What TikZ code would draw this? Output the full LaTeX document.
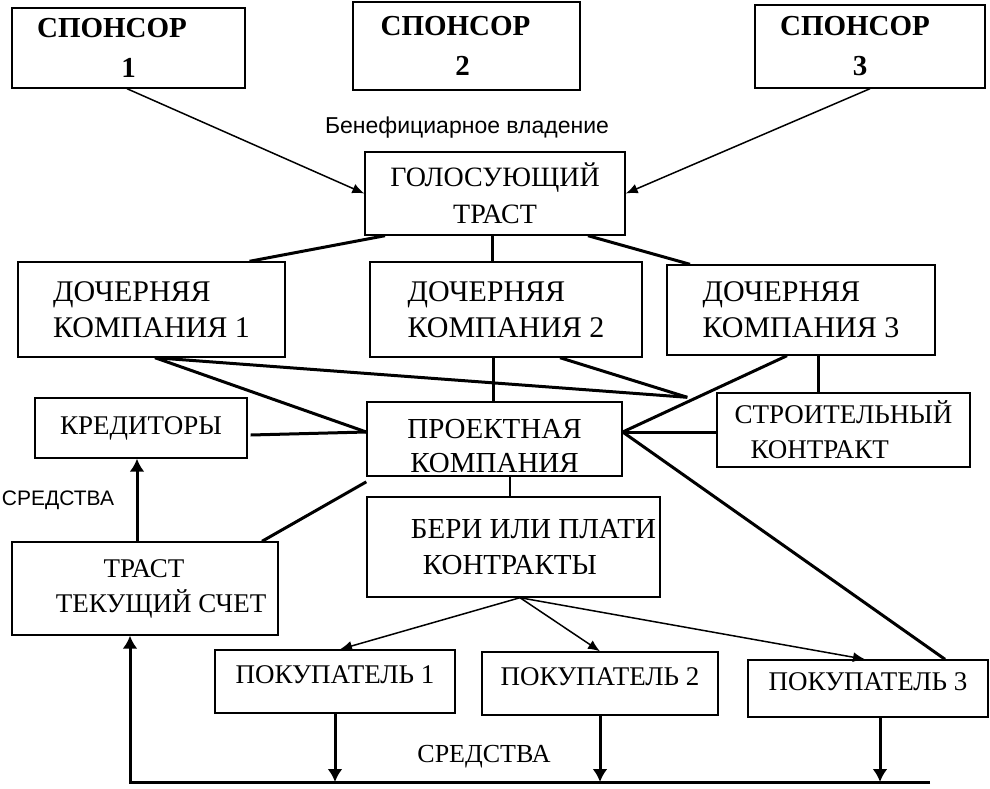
\documentclass[tikz,border=0pt]{standalone}
\usepackage{fontspec}
\setmainfont{Liberation Serif}
\newfontfamily\labelfont{Liberation Sans}
\usetikzlibrary{arrows.meta, positioning}

\tikzset{
	box/.style={draw, line width=1.4pt, inner sep=3pt, align=center, font=\fontsize{27}{35}\selectfont},
	bigbox/.style={box, font=\fontsize{30}{36}\selectfont},
	spbox/.style={box, font=\bfseries\fontsize{29}{40}\selectfont},
	sz/.style 2 args={minimum width=#1pt, minimum height=#2pt},
	thick link/.style={line width=3pt},
	thin link/.style={line width=1.5pt},
	thick arrow/.style={thick link, -{Latex[length=13pt, width=15pt]}},
	thin arrow/.style={thin link, -{Latex[length=12pt, width=10pt]}}
}

\begin{document}
\begin{tikzpicture}[x=1pt, y=-1pt]
		\useasboundingbox (0,0) rectangle (990,789);
		\draw (128.5,48) node[spbox, sz={233}{80}] (sp1) {\hspace*{-33pt}СПОНСОР\\1}
		(466.5,46) node[spbox, sz={227}{88}] (sp2) {\hspace*{-22pt}СПОНСОР\\\hspace*{-8pt}2}
		(870,46.5) node[spbox, sz={230}{83}] (sp3) {\hspace*{-30pt}СПОНСОР\\\hspace*{-20pt}3}
		(495,193.5) node[box, sz={260}{83}, font=\fontsize{28}{37}\selectfont] (gt) {ГОЛОСУЮЩИЙ\\ТРАСТ}
		(151.5,309.5) node[bigbox, sz={267}{95}, align=left] (d1) {ДОЧЕРНЯЯ\\КОМПАНИЯ 1}
		(506,309.5) node[bigbox, sz={272}{95}, align=left] (d2) {ДОЧЕРНЯЯ\\КОМПАНИЯ 2}
		(801,310) node[bigbox, sz={268}{90}, align=left] (d3) {ДОЧЕРНЯЯ\\КОМПАНИЯ 3}
		(141,428) node[box, sz={212}{60}] (cred) {КРЕДИТОРЫ}
		(494.5,439) node[box, sz={255}{72}, font=\fontsize{29}{34}\selectfont] (proj) {\rule{0pt}{34pt}ПРОЕКТНАЯ\\КОМПАНИЯ}
		(843.5,430) node[box, sz={253}{74}, align=left] (build) {СТРОИТЕЛЬНЫЙ\\\hspace*{16pt}КОНТРАКТ}
		(145,588.5) node[box, sz={266}{93}] (tacc) {\hspace*{-2pt}ТРАСТ\\\hspace*{32pt}ТЕКУЩИЙ СЧЕТ}
		(513.5,547) node[box, sz={293}{100}, align=left, font=\fontsize{29}{36}\selectfont] (top) {\hspace*{40pt}БЕРИ ИЛИ ПЛАТИ\\\hspace*{52pt}КОНТРАКТЫ}
		(335,681.5) node[box, sz={240}{63}] (b1) {ПОКУПАТЕЛЬ 1\\[-22pt]}
		(600,683.5) node[box, sz={236}{63}] (b2) {ПОКУПАТЕЛЬ 2\\[-22pt]}
		(868,688.5) node[box, sz={240}{57}] (b3) {ПОКУПАТЕЛЬ 3\\[-22pt]};
		
		\node[font=\labelfont\fontsize{23}{26}\selectfont] (ben) at (467,128) {Бенефициарное владение};
		\node[font=\labelfont\fontsize{21}{24}\selectfont] (fund1) at (58,500) {СРЕДСТВА};
		\node[font=\fontsize{26}{30}\selectfont] (fund2) at (484,757) {СРЕДСТВА};
		
		\coordinate (jn) at ([xshift=-29pt, yshift=-5pt]build.north west);
		\coordinate (busL) at (130,782);
		\coordinate (busR) at (930,782);
		
		% sponsors to voting trust
		\draw[thin arrow] ([xshift=-1.5pt]sp1.south) -- (gt.west);
		\draw[thin arrow] (sp3.south) -- (gt.east);
		
		% trust to subsidiaries
		\draw[thick link] ([xshift=-110pt]gt.south) -- ([xshift=98pt]d1.north);
		\draw[thick link] ([xshift=-3pt]gt.south) -- ([xshift=-14pt]d2.north);
		\draw[thick link] ([xshift=93pt]gt.south) -- ([xshift=-111pt]d3.north);
		
		% subsidiaries to project
		\draw[thick link] ([xshift=3.5pt]d1.south) -- ([yshift=7pt]proj.west);
		\draw[thick link] ([xshift=3.5pt]d1.south) -- (jn);
		\draw[thick link] ([xshift=54pt]d2.south) -- (jn);
		\draw[thick link] ([xshift=-13pt]d2.south) -- ([xshift=-1.5pt]proj.north);
		\draw[thick link] ([xshift=-14pt]d3.south) -- ([yshift=7pt]proj.east);
		\draw[thick link] ([xshift=17pt]d3.south) -- ([xshift=-25.5pt]build.north);
		\draw[thick link] ([yshift=-2pt]build.west) -- ([yshift=7pt]proj.east);
		\draw[thick link] ([yshift=-7pt, xshift=3pt]cred.east) -- ([yshift=7pt]proj.west);
		\draw[thick link] ([yshift=7pt]proj.east) -- ([xshift=77pt]b3.north);
		\draw[thick link] ([yshift=-5pt]proj.south west) -- ([xshift=117pt]tacc.north);
		\draw[thick arrow] ([xshift=-8pt]tacc.north) -- ([xshift=-4pt]cred.south);
		\draw[thin link] ([xshift=15.5pt]proj.south) -- ([xshift=-3.5pt]top.north);
		
		% take or pay to buyers
		\draw[thin arrow] ([xshift=6.5pt]top.south) -- ([xshift=5pt]b1.north);
		\draw[thin arrow] ([xshift=6.5pt]top.south) -- (b2.north);
		\draw[thin arrow] ([xshift=6.5pt]top.south) -- ([xshift=-3pt]b3.north);
		
		% funds
		\draw[thick arrow] (b1.south) -- (b1.south |- busL);
		\draw[thick arrow] (b2.south) -- (b2.south |- busL);
		\draw[thick arrow] ([xshift=12pt]b3.south) -- ([xshift=12pt]b3.south |- busL);
		\draw[thick arrow] (busR) -- (busL) -- (busL |- tacc.south);
	\end{tikzpicture}
\end{document}
